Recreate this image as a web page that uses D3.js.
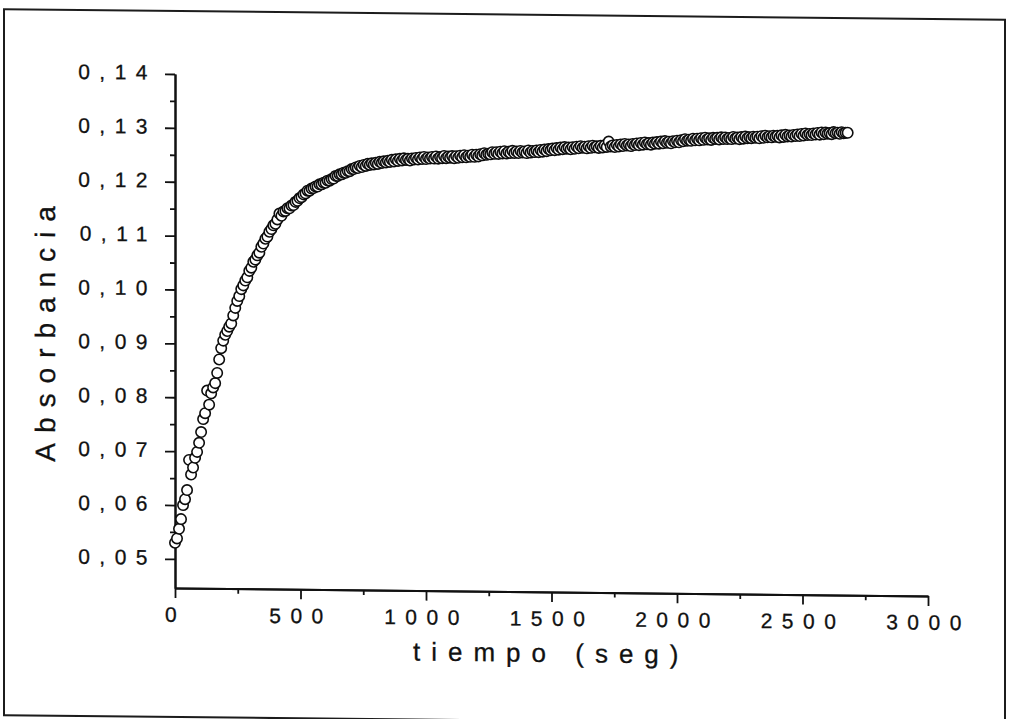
<!DOCTYPE html>
<html>
<head>
<meta charset="utf-8">
<script src="https://cdn.jsdelivr.net/npm/d3@7"></script>
<style>
  body { margin: 0; background: #fff; }
  svg { display: block; }
  text { font-family: "Liberation Sans", Arial, sans-serif; fill: #111; stroke: #111; stroke-width: 0.3px; }
</style>
</head>
<body>
<div id="chart"></div>
<script>
// absorbance readings, one every 8 s from t = 0
var sampleStep = 8;
var absorbance = [
    0.0530, 0.0538, 0.0556, 0.0574, 0.0600, 0.0611, 0.0628, 0.0684, 0.0657, 0.0670,
    0.0688, 0.0699, 0.0716, 0.0736, 0.0760, 0.0771, 0.0813, 0.0787, 0.0808, 0.0819,
    0.0827, 0.0846, 0.0871, 0.0892, 0.0906, 0.0917, 0.0924, 0.0932, 0.0938, 0.0953,
    0.0967, 0.0980, 0.0989, 0.1002, 0.1009, 0.1018, 0.1024, 0.1036, 0.1042, 0.1053,
    0.1057, 0.1065, 0.1070, 0.1081, 0.1087, 0.1096, 0.1100, 0.1109, 0.1114, 0.1121,
    0.1124, 0.1132, 0.1143, 0.1139, 0.1147, 0.1148, 0.1153, 0.1153, 0.1158, 0.1159,
    0.1165, 0.1167, 0.1172, 0.1174, 0.1179, 0.1181, 0.1186, 0.1186, 0.1190, 0.1191,
    0.1194, 0.1194, 0.1198, 0.1198, 0.1201, 0.1201, 0.1205, 0.1205, 0.1208, 0.1209,
    0.1214, 0.1214, 0.1217, 0.1217, 0.1220, 0.1220, 0.1223, 0.1223, 0.1227, 0.1227,
    0.1230, 0.1229, 0.1233, 0.1231, 0.1235, 0.1233, 0.1237, 0.1235, 0.1238, 0.1236,
    0.1239, 0.1237, 0.1241, 0.1239, 0.1242, 0.1240, 0.1243, 0.1241, 0.1245, 0.1242,
    0.1246, 0.1243, 0.1247, 0.1244, 0.1248, 0.1245, 0.1247, 0.1244, 0.1248, 0.1246,
    0.1249, 0.1246, 0.1250, 0.1247, 0.1251, 0.1247, 0.1250, 0.1248, 0.1251, 0.1248,
    0.1252, 0.1248, 0.1251, 0.1249, 0.1253, 0.1249, 0.1252, 0.1250, 0.1253, 0.1249,
    0.1253, 0.1250, 0.1254, 0.1251, 0.1255, 0.1251, 0.1254, 0.1252, 0.1256, 0.1252,
    0.1256, 0.1253, 0.1257, 0.1255, 0.1259, 0.1256, 0.1258, 0.1257, 0.1261, 0.1258,
    0.1261, 0.1258, 0.1262, 0.1259, 0.1263, 0.1259, 0.1262, 0.1260, 0.1264, 0.1260,
    0.1263, 0.1260, 0.1264, 0.1261, 0.1263, 0.1260, 0.1265, 0.1261, 0.1264, 0.1262,
    0.1265, 0.1262, 0.1266, 0.1263, 0.1267, 0.1264, 0.1268, 0.1266, 0.1269, 0.1266,
    0.1270, 0.1267, 0.1271, 0.1268, 0.1272, 0.1269, 0.1271, 0.1268, 0.1272, 0.1269,
    0.1273, 0.1270, 0.1274, 0.1271, 0.1273, 0.1270, 0.1274, 0.1271, 0.1275, 0.1272,
    0.1274, 0.1271, 0.1275, 0.1272, 0.1276, 0.1273, 0.1283, 0.1274, 0.1276, 0.1273,
    0.1277, 0.1274, 0.1278, 0.1275, 0.1279, 0.1276, 0.1278, 0.1275, 0.1279, 0.1277,
    0.1280, 0.1277, 0.1281, 0.1278, 0.1282, 0.1279, 0.1281, 0.1278, 0.1282, 0.1280,
    0.1283, 0.1280, 0.1284, 0.1281, 0.1285, 0.1282, 0.1284, 0.1281, 0.1285, 0.1283,
    0.1286, 0.1283, 0.1287, 0.1285, 0.1289, 0.1286, 0.1288, 0.1286, 0.1290, 0.1287,
    0.1290, 0.1287, 0.1291, 0.1288, 0.1292, 0.1289, 0.1291, 0.1288, 0.1292, 0.1290,
    0.1292, 0.1289, 0.1293, 0.1290, 0.1293, 0.1290, 0.1292, 0.1290, 0.1294, 0.1291,
    0.1293, 0.1290, 0.1294, 0.1291, 0.1295, 0.1292, 0.1294, 0.1292, 0.1295, 0.1293,
    0.1295, 0.1292, 0.1296, 0.1293, 0.1297, 0.1294, 0.1296, 0.1294, 0.1297, 0.1295,
    0.1297, 0.1294, 0.1298, 0.1295, 0.1299, 0.1296, 0.1298, 0.1296, 0.1299, 0.1297,
    0.1300, 0.1297, 0.1301, 0.1298, 0.1302, 0.1299, 0.1301, 0.1299, 0.1302, 0.1300,
    0.1303, 0.1300, 0.1304, 0.1301, 0.1304, 0.1302, 0.1303, 0.1301, 0.1305, 0.1303,
    0.1304, 0.1302, 0.1305, 0.1303, 0.1304, 0.1304
];

var xTicks = [0, 500, 1000, 1500, 2000, 2500, 3000];
var xMinorTicks = [250, 750, 1250, 1750, 2250, 2750];
var yTicks = [0.05, 0.06, 0.07, 0.08, 0.09, 0.10, 0.11, 0.12, 0.13, 0.14];
var yMinorTicks = [0.055, 0.065, 0.075, 0.085, 0.095, 0.105, 0.115, 0.125, 0.135];

var xTitle = 'tiempo (seg)';
var yTitle = 'Absorbancia';

var width = 1009;
var height = 719;

var svg = d3.select('#chart')
    .append('svg')
    .attr('width', width)
    .attr('height', height);

// the scanned page sits slightly askew
var page = svg.append('g')
    .attr('transform', 'translate(175,0) skewY(0.6) translate(-175,0)');

page.append('rect')
    .attr('x', 4)
    .attr('y', 11)
    .attr('width', 1001)
    .attr('height', 706)
    .attr('fill', 'none')
    .attr('stroke', '#1c1c1c')
    .attr('stroke-width', 2);

var x = d3.scaleLinear()
    .domain([0, 3000])
    .range([175, 928]);

var y = d3.scaleLinear()
    .domain([0.0446, 0.14])
    .range([588, 74]);

var commaFormat = function (d) {
    return d3.format('.2f')(d).replace('.', ',');
};

function styleAxis(g) {
    g.select('.domain').attr('stroke', '#111').attr('stroke-width', 2);
    g.selectAll('.tick line').attr('stroke', '#111').attr('stroke-width', 1.8);
    g.selectAll('.tick text')
        .style('font-size', '21px')
        .style('letter-spacing', '9.5px')
        .attr('fill', '#111');
}

page.append('g')
    .attr('transform', 'translate(0,588)')
    .call(d3.axisBottom(x).tickValues(xMinorTicks).tickSize(5).tickSizeOuter(0).tickFormat(''))
    .call(styleAxis);

page.append('g')
    .attr('transform', 'translate(0,588)')
    .call(d3.axisBottom(x).tickValues(xTicks).tickSize(10).tickSizeOuter(0).tickPadding(9).tickFormat(d3.format('d')))
    .call(styleAxis);

page.append('g')
    .attr('transform', 'translate(175,0)')
    .call(d3.axisLeft(y).tickValues(yMinorTicks).tickSize(5).tickSizeOuter(0).tickFormat(''))
    .call(styleAxis);

page.append('g')
    .attr('transform', 'translate(175,0)')
    .call(d3.axisLeft(y).tickValues(yTicks).tickSize(10).tickSizeOuter(0).tickPadding(8).tickFormat(commaFormat))
    .call(styleAxis)
    .selectAll('.tick text')
    .attr('dy', '0.26em');

page.append('g')
    .selectAll('circle')
    .data(absorbance)
    .enter()
    .append('circle')
    .attr('cx', function (d, i) { return x(i * sampleStep); })
    .attr('cy', function (d) { return y(d); })
    .attr('r', 5.2)
    .attr('fill', '#fff')
    .attr('stroke', '#0d0d0d')
    .attr('stroke-width', 1.6);

page.append('text')
    .attr('x', 413)
    .attr('y', 658)
    .style('font-size', '26px')
    .style('letter-spacing', '11px')
    .text(xTitle);

page.append('text')
    .attr('transform', 'translate(55,463) rotate(-90)')
    .style('font-size', '28px')
    .style('letter-spacing', '10px')
    .text(yTitle);
</script>
</body>
</html>
